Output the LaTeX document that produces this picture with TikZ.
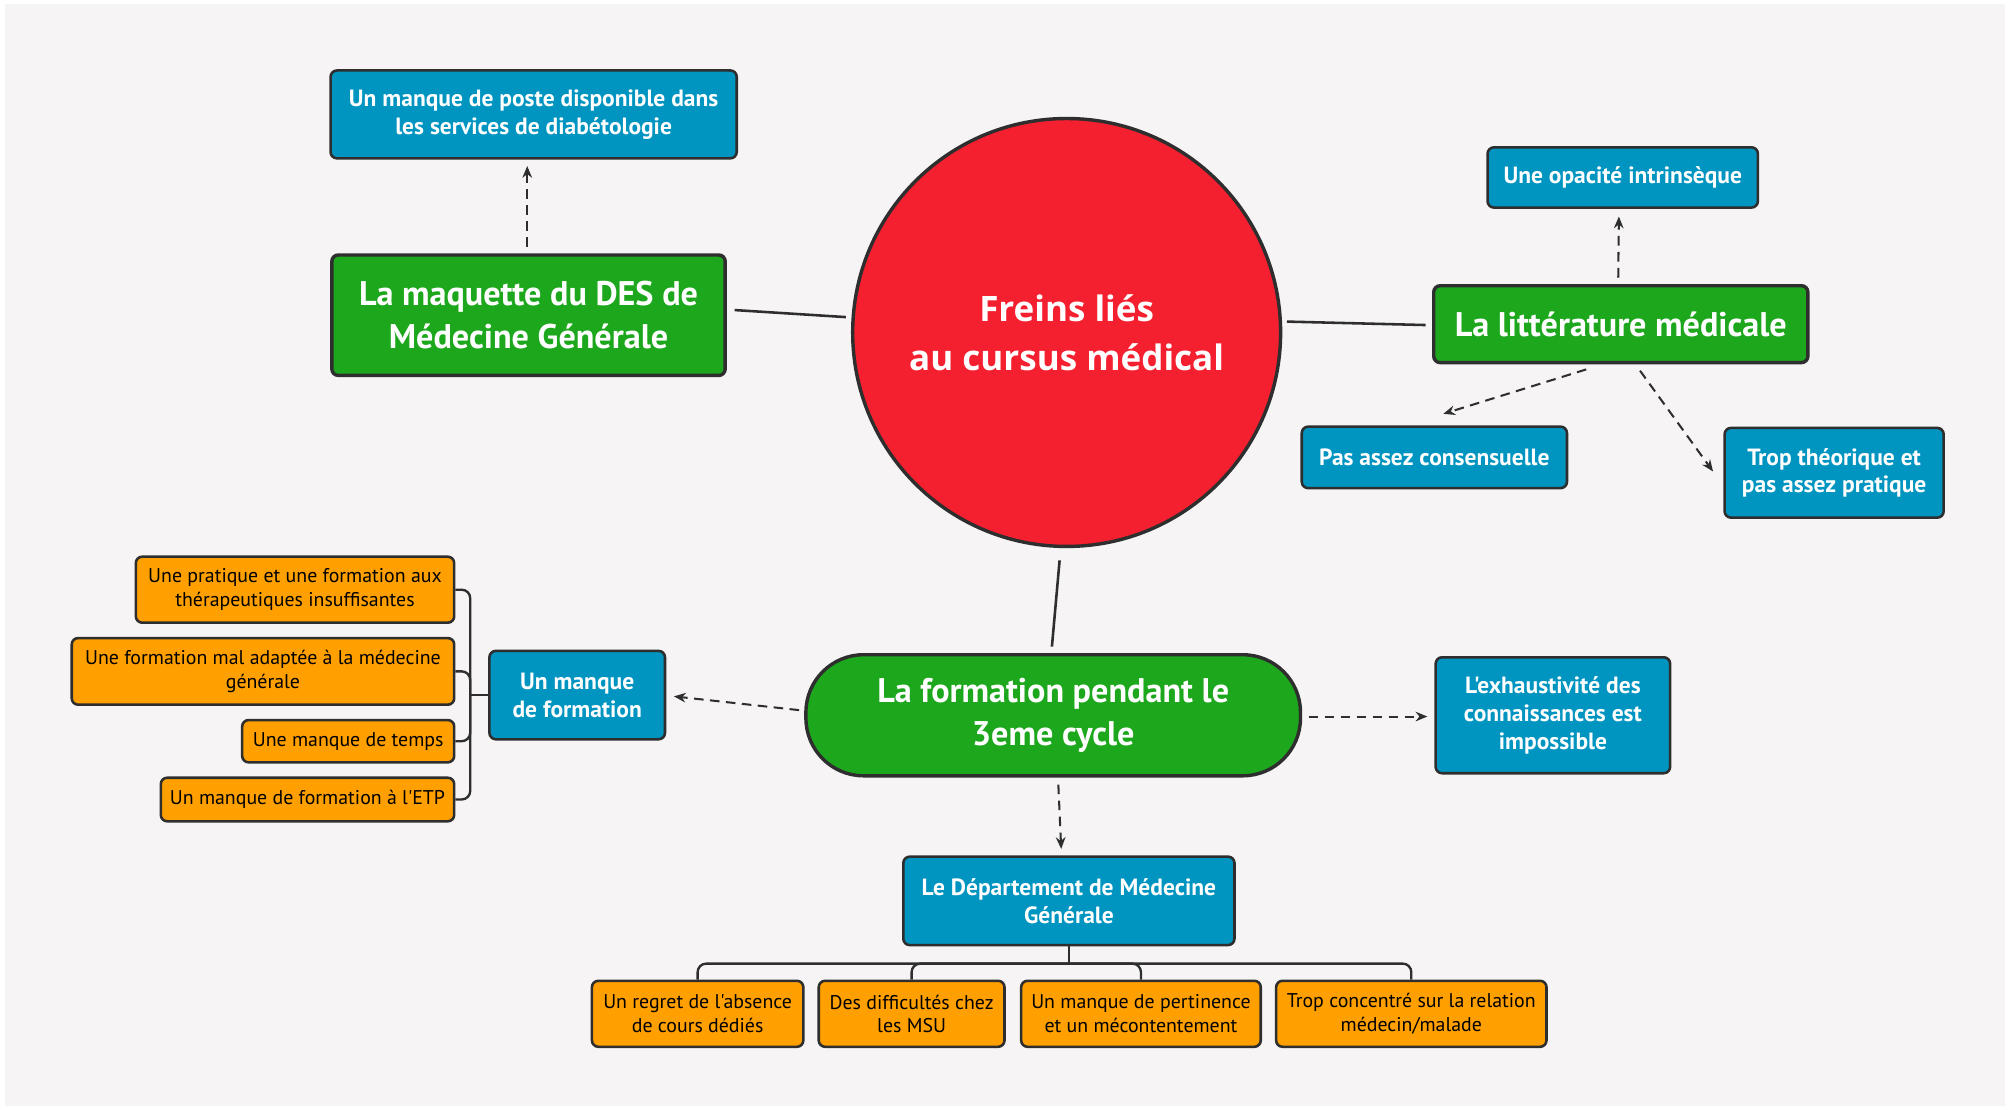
\documentclass[tikz,border=0pt]{standalone}
\usepackage{fontspec}
\setmainfont{PT Sans}[Ligatures=TeXOff]
\newfontfamily\circfont{Open Sans}
\usetikzlibrary{arrows.meta,calc}
\definecolor{cblue}{RGB}{0,148,192}
\definecolor{cgreen}{RGB}{29,167,29}
\definecolor{corange}{RGB}{255,160,0}
\definecolor{cred}{RGB}{245,32,47}
\definecolor{bord}{RGB}{46,46,46}
\definecolor{bg}{RGB}{246,244,245}
\tikzset{
  sz/.style 2 args={minimum width=#1*0.6pt, minimum height=#2*0.6pt},
  box/.style={draw=bord, line width=1.2pt, rounded corners=3pt, inner sep=0pt, align=center},
  bluebox/.style={box, fill=cblue, text=white, font=\bfseries\fontsize{11}{13}\selectfont},
  greenbox/.style={box, fill=cgreen, text=white, line width=1.6pt, font=\bfseries\fontsize{16}{20}\selectfont},
  orangebox/.style={box, fill=corange, text=black, font=\fontsize{9.3}{11}\selectfont},
  dasharrow/.style={draw=bord, line width=0.95pt, dash pattern=on 4.5pt off 3pt, -{Stealth[length=5.5pt,width=4.5pt]}},
  link/.style={draw=bord, line width=1.2pt},
  tree/.style={draw=bord, line width=1.1pt, rounded corners=4pt},
}
\begin{document}
\begin{tikzpicture}[x=0.6pt,y=-0.6pt]
\useasboundingbox (0,0) rectangle (1568,866);
\fill[white] (0,0) rectangle (1568,866);
\fill[bg] (4,3) rectangle (1565,863);

% central circle
\node[circle, draw=bord, line width=1.6pt, fill=cred, inner sep=0pt, minimum size=200.4pt,
      text=white, align=center, font=\circfont\bfseries\fontsize{16.4}{22.8}\selectfont] (circ) at (832.5,259.5)
      {Freins liés\\au cursus médical};

% top-left
\node[bluebox, sz={317}{68.6}] (b1) at (416.5,89.3) {Un manque de poste disponible dans\\les services de diabétologie};
\node[greenbox, sz={307}{94}] (g1) at (412.5,246) {La maquette du DES de\\Médecine Générale};

% right
\node[bluebox, sz={211}{47}] (opac) at (1266.5,138.5) {Une opacité intrinsèque};
\node[greenbox, sz={292}{60}] (g2) at (1265,253) {La littérature médicale};
\node[bluebox, sz={207}{48}] (pas) at (1119.5,357) {Pas assez consensuelle};
\node[bluebox, sz={171}{70}] (trop) at (1431.5,369) {Trop théorique et\\pas assez pratique};

% bottom
\node[greenbox, rounded corners=27pt, sz={386}{94.5}] (g3) at (822,558.25) {La formation pendant le\\3eme cycle};
\node[bluebox, sz={137}{69}] (mf) at (450.5,542.5) {Un manque\\de formation};
\node[bluebox, sz={183}{90.5}] (exh) at (1212,558.25) {L'exhaustivité des\\connaissances est\\impossible};
\node[bluebox, sz={258.5}{69}] (dmg) at (834.25,703.1) {Le Département de Médecine\\Générale};

\node[orangebox, sz={165}{51.5}] (c1) at (544.5,791.25) {Un regret de l'absence\\de cours dédiés};
\node[orangebox, sz={145}{51.5}] (c2) at (711.5,791.25) {Des difficultés chez\\les MSU};
\node[orangebox, sz={187}{51.5}] (c3) at (890.5,791.25) {Un manque de pertinence\\et un mécontentement};
\node[orangebox, sz={211}{51.5}] (c4) at (1101.5,791.25) {Trop concentré sur la relation\\médecin/malade};

\node[orangebox, sz={248.5}{51.5}] (o1) at (230.25,460.25) {Une pratique et une formation aux\\thérapeutiques insuffisantes};
\node[orangebox, sz={298.5}{52}] (o2) at (205.25,524) {Une formation mal adaptée à la médecine\\générale};
\node[orangebox, sz={165.5}{33}] (o3) at (271.75,578.5) {Une manque de temps};
\node[orangebox, sz={229}{34}] (o4) at (240,624) {Un manque de formation à l'ETP};

% solid links
\draw[link] ($(g1.east)+(6,-4)$) -- ($(circ.west)+(-4,-12)$);
\draw[link] ($(circ.east)+(3.5,-8.5)$) -- ($(g2.west)+(-5,0.7)$);
\draw[link] ($(circ.south)+(-5.5,9.5)$) -- ($(g3.north)+(-1,-5)$);

% dashed arrows
\draw[dasharrow] ($(g1.north)+(-1,-5)$) -- ($(b1.south)+(-5,5)$);
\draw[dasharrow] ($(g2.north)+(-2,-5)$) -- ($(opac.south)+(-3,6)$);
\draw[dasharrow] ($(g2.south)+(-27,4)$) -- ($(pas.north)+(7,-9)$);
\draw[dasharrow] ($(g2.south)+(15,5)$) -- ($(trop.west)+(-8,-1)$);
\draw[dasharrow] ($(g3.west)+(-4,-4)$) -- ($(mf.east)+(6,1)$);
\draw[dasharrow] ($(g3.east)+(5,1)$) -- ($(exh.west)+(-5.5,1)$);
\draw[dasharrow] ($(g3.south)+(4,5.5)$) -- ($(dmg.north)+(-6,-5)$);

% left tree
\coordinate (mfj) at ($(mf.west)+(-14,0)$);
\draw[tree] (mf.west) -- (mfj);
\draw[tree] (o1.east) -| (mfj);
\draw[tree] (o2.east) -| (mfj);
\draw[tree] (o3.east) -| (mfj);
\draw[tree] (o4.east) -| (mfj);

% bottom tree
\coordinate (dj) at ($(dmg.south)+(0,13.5)$);
\draw[tree] (dmg.south) -- (dj);
\draw[tree] (c1.north) |- (dj);
\draw[tree] (c2.north) |- (dj);
\draw[tree] (c3.north) |- (dj);
\draw[tree] (c4.north) |- (dj);
\end{tikzpicture}
\end{document}
